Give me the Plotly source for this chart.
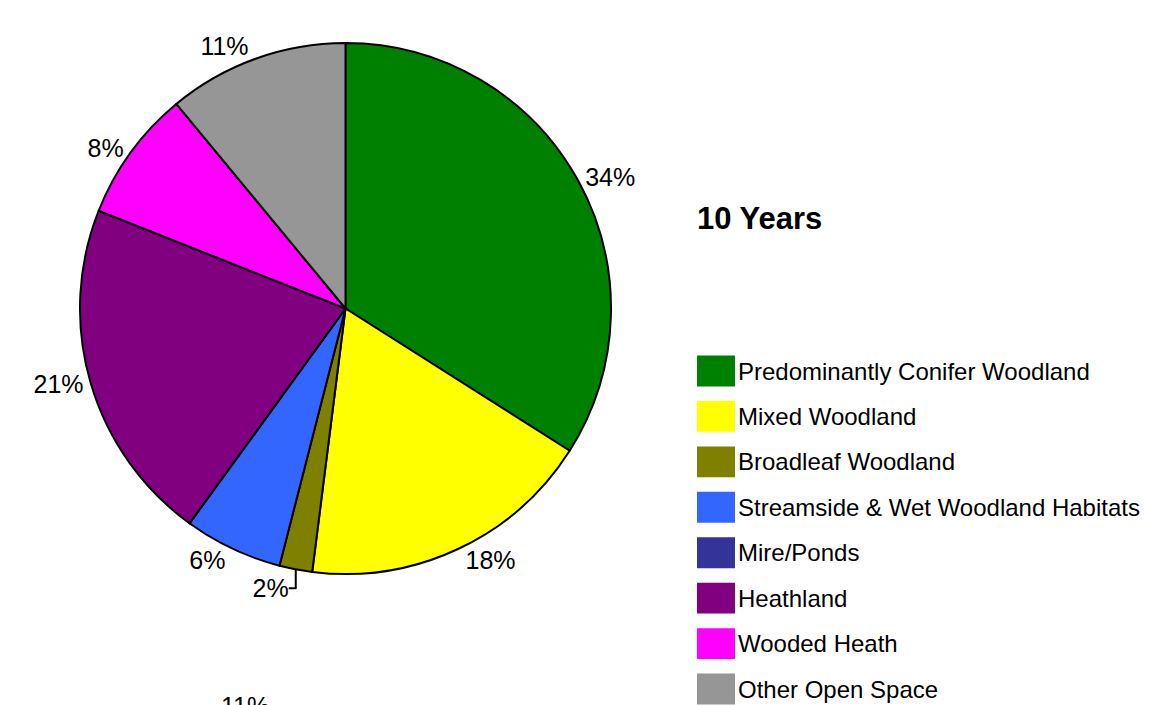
import plotly.graph_objects as go

categories = [
    "Predominantly Conifer Woodland",
    "Mixed Woodland",
    "Broadleaf Woodland",
    "Streamside & Wet Woodland Habitats",
    "Mire/Ponds",
    "Heathland",
    "Wooded Heath",
    "Other Open Space",
]
values = [34, 18, 2, 6, 0, 21, 8, 11]
colors = ["#008000", "#FFFF00", "#808000", "#3366FF", "#333399", "#800080", "#FF00FF", "#969696"]
title_text = "10 Years"
next_chart_label = "11%"

W, H = 1176, 705     # window size
OFF = 8              # page body margin
FW, FH = W - OFF, H - OFF
FONT = "Liberation Sans, Arial, sans-serif"


def px(x):
    return (x - OFF) / FW


def py(y):
    return 1 - (y - OFF) / FH


fig = go.Figure()

fig.add_trace(go.Pie(
    labels=categories,
    values=values,
    marker=dict(colors=colors, line=dict(color="black", width=2)),
    sort=False,
    direction="clockwise",
    rotation=0,
    textposition="outside",
    texttemplate=["" if v == 0 else "%{percent:.0%}" for v in values],
    textfont=dict(family=FONT, size=25, color="black"),
    domain=dict(x=[px(80), px(611)], y=[py(574), py(43)]),
    showlegend=False,
    hoverinfo="label+percent",
))

# Legend drawn as a horizontal bar series on a hidden categorical axis
unit = 45.43
fig.add_trace(go.Bar(
    y=categories,
    x=[1] * len(categories),
    orientation="h",
    marker=dict(color=colors, line=dict(width=0)),
    width=0.68,
    text=categories,
    textposition="outside",
    textfont=dict(family=FONT, size=24, color="black"),
    constraintext="none",
    cliponaxis=False,
    showlegend=False,
    hoverinfo="skip",
    xaxis="x", yaxis="y",
))

fig.update_layout(
    width=FW, height=FH,
    margin=dict(l=0, r=0, t=0, b=0),
    paper_bgcolor="white",
    plot_bgcolor="rgba(0,0,0,0)",
    showlegend=False,
    font=dict(family=FONT, color="black"),
    xaxis=dict(domain=[px(697), 1.0], range=[0, (W - 697) / 38], visible=False, fixedrange=True),
    yaxis=dict(domain=[0, py(348)], type="category",
               range=[7 + (705 - 689) / unit, -(371 - 348) / unit], visible=False, fixedrange=True),
    annotations=[
        dict(text="<b>" + title_text + "</b>", x=px(695), y=py(218), xref="paper", yref="paper",
             xanchor="left", yanchor="middle", showarrow=False,
             font=dict(family=FONT, size=31, color="black")),
        dict(text=next_chart_label, x=px(245), y=py(690), xref="paper", yref="paper",
             xanchor="center", yanchor="top", showarrow=False,
             font=dict(family=FONT, size=25, color="black")),
    ],
)

fig.write_html("out.html")
